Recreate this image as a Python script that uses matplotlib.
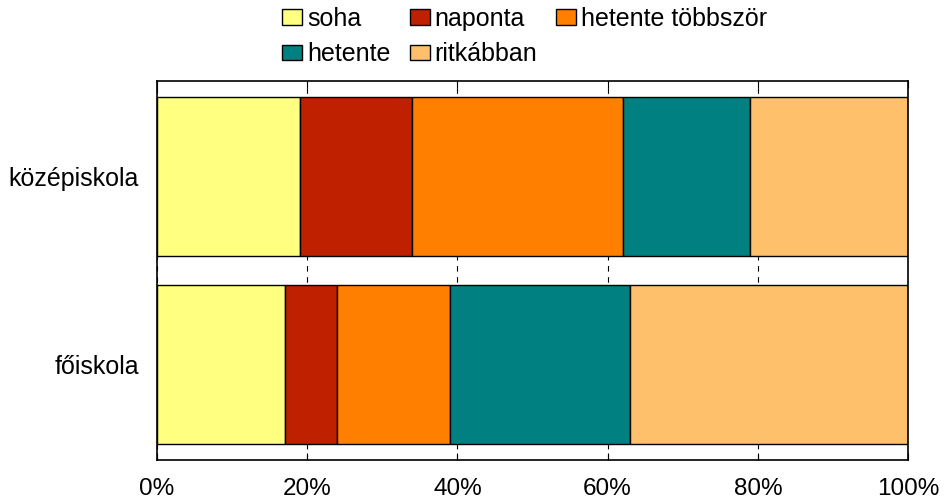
import numpy as np
import matplotlib.pyplot as plt
from matplotlib.ticker import FuncFormatter

plt.rcParams['font.family'] = ['Liberation Sans', 'DejaVu Sans']

# Data (percent of each group)
groups = ['főiskola', 'középiskola']
series = ['soha', 'naponta', 'hetente többször', 'hetente', 'ritkábban']
soha = [17, 19]
naponta = [7, 15]
hetente_tobbszor = [15, 28]
hetente = [24, 17]
ritkabban = [37, 21]
values = [soha, naponta, hetente_tobbszor, hetente, ritkabban]
colors = ['#FFFF80', '#BF2000', '#FF8000', '#008080', '#FFC06C']

fig = plt.figure(figsize=(9.44, 4.99), dpi=100)
ax = fig.add_axes([0.1663, 0.0782, 0.7956, 0.7595])

y = np.arange(len(groups))
left = np.zeros(len(groups))
handles = []
for name, vals, col in zip(series, values, colors):
    b = ax.barh(y, vals, left=left, height=0.85, color=col,
                edgecolor='black', linewidth=1, label=name, zorder=3)
    handles.append(b)
    left += np.array(vals)

ax.set_xlim(0, 100)
ax.set_ylim(-0.508, 1.508)
ax.set_xticks([0, 20, 40, 60, 80, 100])
ax.xaxis.set_major_formatter(FuncFormatter(lambda v, p: f'{int(v)}%'))
ax.set_yticks(y)
ax.set_yticklabels(groups)
ax.tick_params(axis='x', direction='in', length=5, top=True, labelsize=17.5, pad=13)
ax.tick_params(axis='y', length=0, labelsize=18, pad=13)
ax.grid(axis='x', color='black', linestyle=(0, (5, 5)), linewidth=0.8, zorder=0)
ax.set_axisbelow(True)
for s in ax.spines.values():
    s.set_linewidth(1.2)
    s.set_zorder(4)

# legend rows: soha, naponta, hetente többször / hetente, ritkábban
order = [0, 3, 1, 4, 2]
fig.legend([handles[i] for i in order], [series[i] for i in order],
           ncol=3, loc='upper center', bbox_to_anchor=(0.556, 1.031),
           frameon=False, fontsize=18, handlelength=0.8, handleheight=0.6,
           handletextpad=0.2, columnspacing=0.75, labelspacing=0.45)

fig.savefig('out.png', dpi=100)
